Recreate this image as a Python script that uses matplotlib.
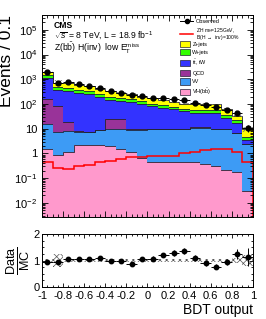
import numpy as np
import matplotlib
matplotlib.use("Agg")
import matplotlib.pyplot as plt
from matplotlib.patches import Patch
from matplotlib.lines import Line2D
from matplotlib.ticker import FixedLocator, MultipleLocator, FuncFormatter

plt.rcParams['font.family'] = ['Liberation Sans', 'DejaVu Sans']
plt.rcParams['mathtext.fontset'] = 'custom'
plt.rcParams['mathtext.rm'] = 'Liberation Sans'
plt.rcParams['mathtext.it'] = 'Liberation Sans:italic'
plt.rcParams['mathtext.bf'] = 'Liberation Sans:bold'
plt.rcParams['hatch.linewidth'] = 0.5

# BDT output bins
edges = np.linspace(-1, 1, 21)

# stacked backgrounds, bottom to top
vh = [1.48, 0.87, 1.18, 2.1, 2.2, 2.2, 2.0, 1.48, 1.15, 0.68,
      0.47, 0.43, 0.43, 0.47, 0.43, 0.38, 0.30, 0.21, 0.17, 0.03]
vv = [14.0, 6.7, 7.1, 5.3, 5.2, 6.5, 7.8, 8.3, 8.0, 8.6,
      9.0, 8.9, 9.4, 9.5, 10.6, 10.8, 9.5, 9.3, 6.4, 2.3]
qcd = [150, 75, 10.7, 0.5, 0.3, 0.3, 14, 14, 0.2, 0.2,
       0.2, 0.2, 0.2, 0.2, 0.2, 0.2, 0.2, 0.2, 0.1, 0.05]
ttbar = [984, 282, 311, 282, 242, 186, 128, 111, 113, 88,
         73, 61, 51, 42, 34, 32, 35, 18, 10.2, 1.2]
wjets = [320, 125, 115, 93, 80, 69, 41, 42, 33, 31,
         21, 18, 15, 13, 11, 12.5, 11, 7, 5, 1.1]
zjets = [550, 235, 275, 232, 190, 146, 142, 108, 100, 66,
         64, 51, 42, 39, 44, 46, 42, 28, 12, 5.1]

# ZH signal (not stacked)
signal = [0.43, 0.25, 0.23, 0.31, 0.34, 0.47, 0.51, 0.58, 0.74, 0.74,
          0.76, 0.81, 0.81, 1.07, 1.12, 1.38, 1.52, 1.52, 1.12, 0.47]

data = [1940, 696, 756, 646, 559, 455, 335, 285, 223, 210,
        181, 169, 153, 141, 110, 92, 76, 59, 42, 11]

# relative MC uncertainty
mc_unc = [0.06, 0.25, 0.05, 0.05, 0.05, 0.05, 0.05, 0.05, 0.06, 0.06,
          0.05, 0.06, 0.06, 0.06, 0.07, 0.07, 0.07, 0.08, 0.10, 0.22]

bkgs = [
    (vh, '#ff99cc', r'VH(b$\bar{\mathrm{b}}$)'),
    (vv, '#3d9bf5', 'VV'),
    (qcd, '#993399', 'QCD'),
    (ttbar, '#3333ff', r't$\bar{\mathrm{t}}$, tW'),
    (wjets, '#33ff00', 'W+jets'),
    (zjets, '#ffff00', 'Z+jets'),
]

centers = 0.5 * (edges[1:] + edges[:-1])
half = 0.5 * (edges[1] - edges[0])
data = np.array(data, dtype=float)

fig = plt.figure(figsize=(2.66, 3.19), dpi=100)
ax = fig.add_axes([0.158, 0.320, 0.793, 0.633])
rax = fig.add_axes([0.158, 0.100, 0.793, 0.166])

floor = 1e-5
bottom = np.full(20, floor)
for vals, col, lab in bkgs:
    top = bottom + np.array(vals)
    ax.stairs(top, edges, baseline=bottom, fill=True, color=col, lw=0)
    ax.stairs(top, edges, baseline=None, color='#222233', lw=0.6)
    bottom = top
total = bottom

unc = np.array(mc_unc)
ax.stairs(total * (1 + unc), edges, baseline=total * (1 - unc), fill=True,
          facecolor='none', edgecolor='#666666', hatch='xxxx', lw=0)

ax.stairs(signal, edges, baseline=floor, color='red', lw=1.1)

ax.errorbar(centers, data, xerr=half, yerr=np.sqrt(data), fmt='o',
            color='black', ms=3.5, lw=0.7, capsize=0)

ax.set_yscale('log')
ax.set_xlim(-1, 1)
ax.set_ylim(2.7e-3, 4e5)


def log_fmt(v, pos):
    n = int(round(np.log10(v)))
    if n == 0:
        return '1'
    if n == 1:
        return '10'
    return r'$10^{%d}$' % n


ax.yaxis.set_major_locator(FixedLocator([1e-2, 1e-1, 1, 10, 1e2, 1e3, 1e4, 1e5]))
ax.yaxis.set_major_formatter(FuncFormatter(log_fmt))
ax.xaxis.set_major_locator(MultipleLocator(0.2))
ax.xaxis.set_minor_locator(MultipleLocator(0.05))
ax.tick_params(which='both', direction='in', top=True, right=True,
               labelsize=8, width=0.6)
ax.tick_params(which='major', length=4)
ax.tick_params(which='minor', length=2)
ax.tick_params(axis='x', labelbottom=False)
ax.set_ylabel('Events / 0.1', fontsize=12.5, loc='top', labelpad=0)

ax.text(0.055, 0.948, 'CMS', transform=ax.transAxes, fontsize=6.2,
        fontweight='bold', va='center')
ax.text(0.055, 0.895, r'$\sqrt{s}$ = 8 TeV, L = 18.9 fb$^{-1}$',
        transform=ax.transAxes, fontsize=6.2, va='center')
ax.text(0.055, 0.835, r'Z(b$\bar{\mathrm{b}}$) H(inv)  low E$_\mathrm{T}^\mathrm{miss}$',
        transform=ax.transAxes, fontsize=6.2, va='center')

# legend: data + signal on top, background boxes below
top_handles = [Line2D([], [], color='black', marker='o', ms=3, lw=0.7),
               Line2D([], [], color='red', lw=1.1)]
top_labels = ['Observed', 'ZH m$_\\mathrm{H}$=125GeV,\nB(H $\\rightarrow$ inv)=100%']
leg1 = ax.legend(top_handles, top_labels, loc='upper left',
                 bbox_to_anchor=(0.655, 0.98), fontsize=3.6, frameon=False,
                 handlelength=2.6, labelspacing=0.35, handletextpad=0.5,
                 borderpad=0, borderaxespad=0)
leg1.get_texts()[0].set_fontsize(4)
leg1.get_texts()[1].set_linespacing(0.75)
ax.add_artist(leg1)

box_handles = []
box_labels = []
for vals, col, lab in reversed(bkgs):
    box_handles.append(Patch(facecolor=col, edgecolor='#222233', lw=0.5))
    box_labels.append(lab)
ax.legend(box_handles, box_labels, loc='upper left', bbox_to_anchor=(0.655, 0.872),
          fontsize=4, frameon=False, handlelength=1.7, handleheight=1.3,
          labelspacing=0.45, handletextpad=0.5, borderpad=0,
          borderaxespad=0)

# ratio panel
ratio = data / total
rerr = np.sqrt(data) / total
rax.stairs(1 + unc, edges, baseline=1 - unc, fill=True, facecolor='none',
           edgecolor='#555555', hatch='xxxxx', lw=0)
rax.errorbar(centers, ratio, xerr=half, yerr=rerr, fmt='o', color='black',
             ms=3.2, lw=0.7, capsize=0)
rax.set_xlim(-1, 1)
rax.set_ylim(0, 2)
rax.yaxis.set_major_locator(MultipleLocator(1))
rax.yaxis.set_minor_locator(MultipleLocator(0.25))
rax.xaxis.set_major_locator(MultipleLocator(0.2))
rax.xaxis.set_minor_locator(MultipleLocator(0.05))
rax.xaxis.set_major_formatter(FuncFormatter(lambda v, p: '%g' % round(v, 1)))
rax.tick_params(which='both', direction='in', top=True, right=True,
                labelsize=8, width=0.6, pad=2)
rax.tick_params(axis='x', pad=3)
rax.tick_params(which='major', length=3)
rax.tick_params(which='minor', length=1.5)
rax.set_ylabel(r'$\frac{\mathrm{Data}}{\mathrm{MC}}$', fontsize=13, labelpad=1)
rax.set_xlabel('BDT output', fontsize=10, loc='right', labelpad=1)

for a in (ax, rax):
    for s in a.spines.values():
        s.set_linewidth(0.7)

fig.savefig('out.png', dpi=100)
